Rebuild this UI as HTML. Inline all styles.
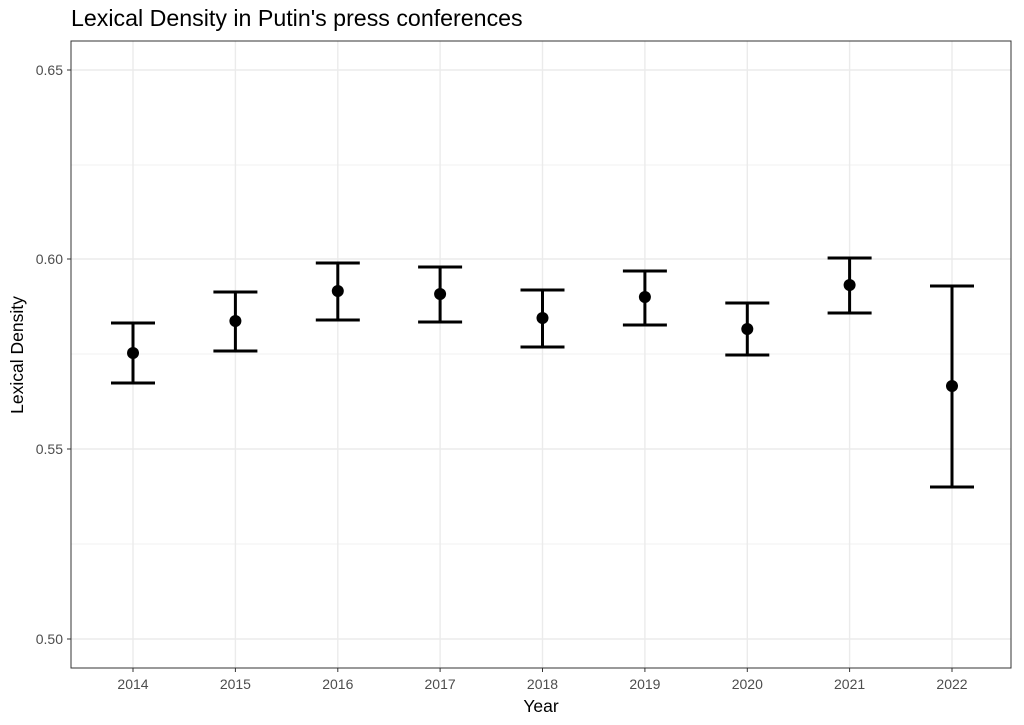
<!DOCTYPE html>
<html><head><meta charset="utf-8"><style>
body{margin:0;background:#fff;}
svg{display:block;font-family:"Liberation Sans",sans-serif;}
</style></head><body>
<svg width="1024" height="725" viewBox="0 0 1024 725">
<rect width="1024" height="725" fill="#fff"/>
<text x="71" y="26" font-size="23.2" fill="#000">Lexical Density in Putin's press conferences</text>
<g stroke="#ebebeb" stroke-width="0.8">
<line x1="71" x2="1011" y1="165" y2="165"/><line x1="71" x2="1011" y1="354" y2="354"/><line x1="71" x2="1011" y1="544" y2="544"/>
</g>
<g stroke="#ebebeb" stroke-width="1.4">
<line x1="71" x2="1011" y1="70" y2="70"/><line x1="71" x2="1011" y1="259" y2="259"/><line x1="71" x2="1011" y1="449" y2="449"/><line x1="71" x2="1011" y1="639" y2="639"/>
<line y1="41" y2="668" x1="133" x2="133"/><line y1="41" y2="668" x1="235.4" x2="235.4"/><line y1="41" y2="668" x1="337.8" x2="337.8"/><line y1="41" y2="668" x1="440.1" x2="440.1"/><line y1="41" y2="668" x1="542.5" x2="542.5"/><line y1="41" y2="668" x1="644.9" x2="644.9"/><line y1="41" y2="668" x1="747.3" x2="747.3"/><line y1="41" y2="668" x1="849.6" x2="849.6"/><line y1="41" y2="668" x1="952" x2="952"/>
</g>
<rect x="71" y="41" width="940" height="627" fill="none" stroke="#333" stroke-width="1"/>
<g stroke="#000" stroke-width="3" fill="none">
<path d="M111 323H155M133 323V383M111 383H155"/>
<path d="M213.4 292H257.4M235.4 292V351M213.4 351H257.4"/>
<path d="M315.8 263H359.8M337.8 263V320M315.8 320H359.8"/>
<path d="M418.1 267H462.1M440.1 267V322M418.1 322H462.1"/>
<path d="M520.5 290H564.5M542.5 290V347M520.5 347H564.5"/>
<path d="M622.9 271H666.9M644.9 271V325M622.9 325H666.9"/>
<path d="M725.3 303H769.3M747.3 303V355M725.3 355H769.3"/>
<path d="M827.6 258H871.6M849.6 258V313M827.6 313H871.6"/>
<path d="M930 286H974M952 286V487M930 487H974"/>
</g>
<g fill="#000">
<circle cx="133" cy="353" r="6"/><circle cx="235.4" cy="321" r="6"/><circle cx="337.8" cy="291" r="6"/><circle cx="440.1" cy="294" r="6"/><circle cx="542.5" cy="318" r="6"/><circle cx="644.9" cy="297" r="6"/><circle cx="747.3" cy="329" r="6"/><circle cx="849.6" cy="285" r="6"/><circle cx="952" cy="386" r="6"/>
</g>
<g stroke="#333" stroke-width="1">
<line x1="67" x2="71" y1="70" y2="70"/><line x1="67" x2="71" y1="259" y2="259"/><line x1="67" x2="71" y1="449" y2="449"/><line x1="67" x2="71" y1="639" y2="639"/>
<line y1="668" y2="672" x1="133" x2="133"/><line y1="668" y2="672" x1="235.4" x2="235.4"/><line y1="668" y2="672" x1="337.8" x2="337.8"/><line y1="668" y2="672" x1="440.1" x2="440.1"/><line y1="668" y2="672" x1="542.5" x2="542.5"/><line y1="668" y2="672" x1="644.9" x2="644.9"/><line y1="668" y2="672" x1="747.3" x2="747.3"/><line y1="668" y2="672" x1="849.6" x2="849.6"/><line y1="668" y2="672" x1="952" x2="952"/>
</g>
<g font-size="14" fill="#4d4d4d" text-anchor="end">
<text x="63" y="75">0.65</text><text x="63" y="264">0.60</text><text x="63" y="454">0.55</text><text x="63" y="644">0.50</text>
</g>
<g font-size="14" fill="#4d4d4d" text-anchor="middle">
<text x="133" y="689">2014</text><text x="235.4" y="689">2015</text><text x="337.8" y="689">2016</text><text x="440.1" y="689">2017</text><text x="542.5" y="689">2018</text><text x="644.9" y="689">2019</text><text x="747.3" y="689">2020</text><text x="849.6" y="689">2021</text><text x="952" y="689">2022</text>
</g>
<text x="541" y="712" font-size="17.5" text-anchor="middle" fill="#000">Year</text>
<text transform="translate(23,355) rotate(-90)" font-size="17.5" text-anchor="middle" fill="#000">Lexical Density</text>
</svg>
</body></html>
